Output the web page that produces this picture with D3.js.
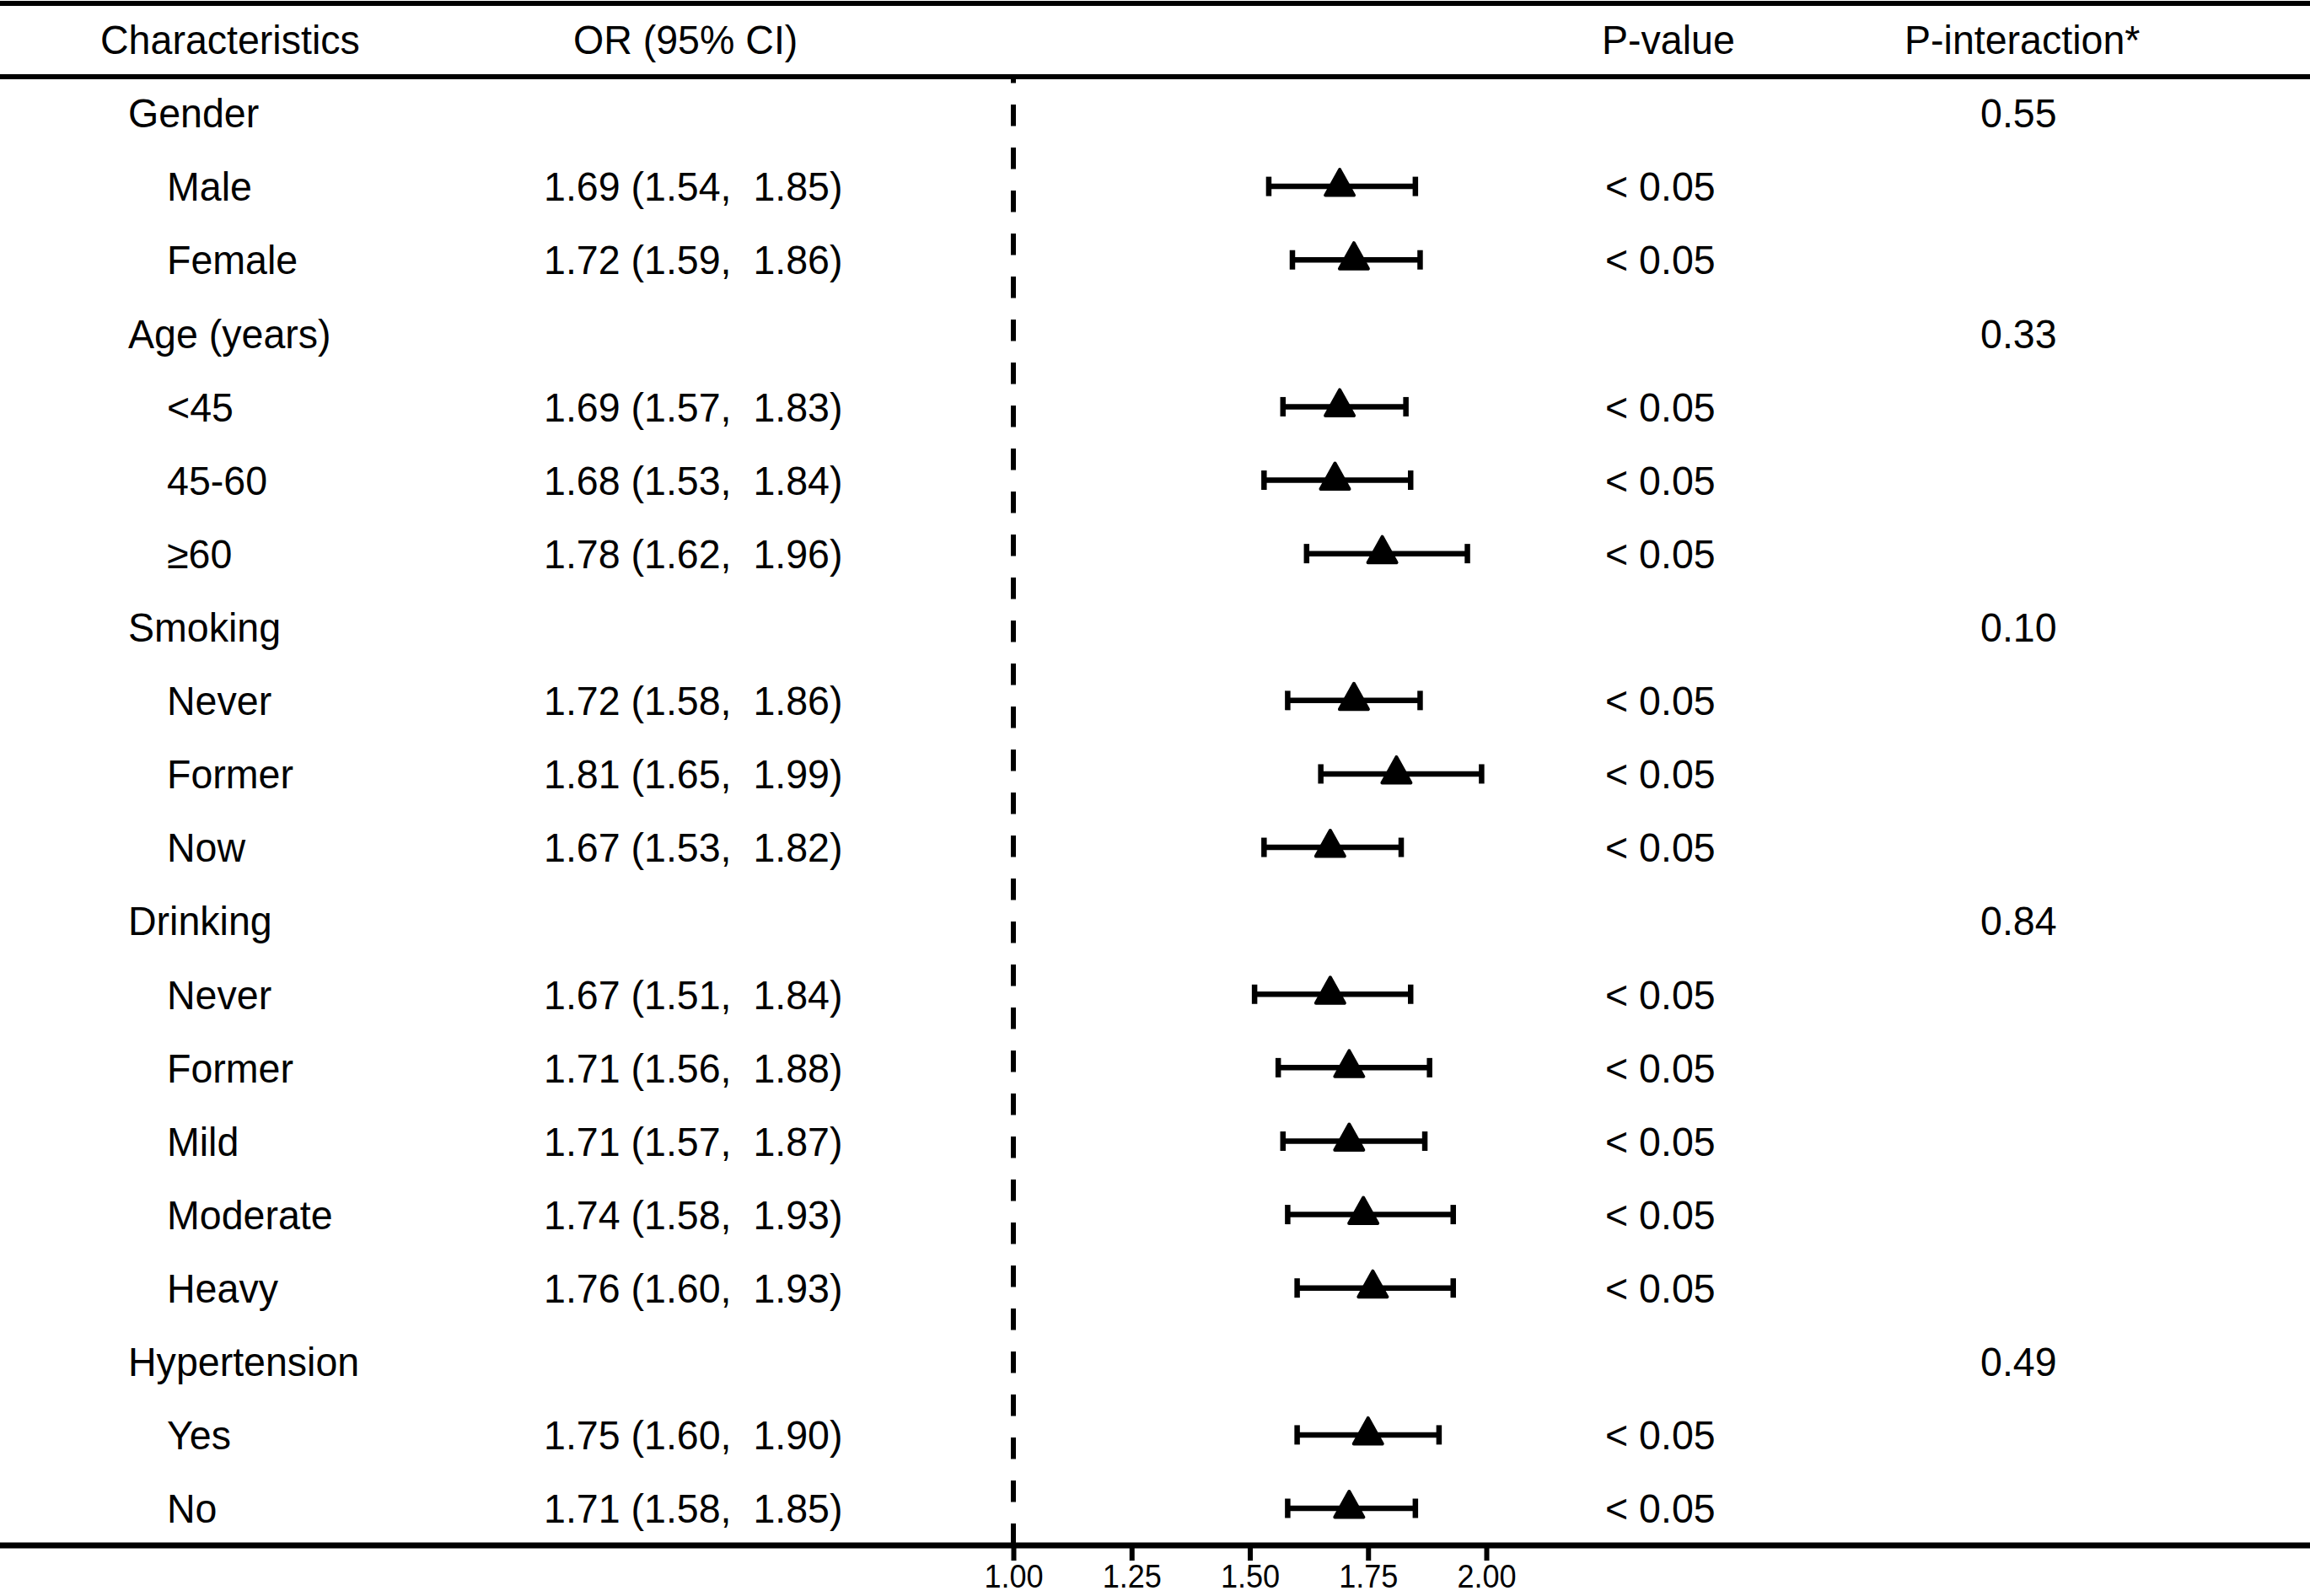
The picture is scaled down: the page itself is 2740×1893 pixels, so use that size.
<!DOCTYPE html>
<html>
<head>
<meta charset="utf-8">
<script src="https://cdn.jsdelivr.net/npm/d3@7"></script>
<style>
  body { margin: 0; background: #fff; }
  text { font-family: "Liberation Sans", Arial, sans-serif; fill: #000; white-space: pre; }
</style>
</head>
<body>
<svg id="drawing_region"></svg>
<script>
const rowLabels = ['Gender', 'Male', 'Female', 'Age (years)', '<45', '45-60', '≥60',
    'Smoking', 'Never', 'Former', 'Now', 'Drinking', 'Never', 'Former', 'Mild',
    'Moderate', 'Heavy', 'Hypertension', 'Yes', 'No'];
const groupRows = ['Gender', 'Age (years)', 'Smoking', 'Drinking', 'Hypertension'];
const orValues = [null, 1.69, 1.72, null, 1.69, 1.68, 1.78, null, 1.72, 1.81, 1.67,
    null, 1.67, 1.71, 1.71, 1.74, 1.76, null, 1.75, 1.71];
const ciLower = [null, 1.54, 1.59, null, 1.57, 1.53, 1.62, null, 1.58, 1.65, 1.53,
    null, 1.51, 1.56, 1.57, 1.58, 1.60, null, 1.60, 1.58];
const ciUpper = [null, 1.85, 1.86, null, 1.83, 1.84, 1.96, null, 1.86, 1.99, 1.82,
    null, 1.84, 1.88, 1.87, 1.93, 1.93, null, 1.90, 1.85];
const pValues = ['', '< 0.05', '< 0.05', '', '< 0.05', '< 0.05', '< 0.05', '', '< 0.05',
    '< 0.05', '< 0.05', '', '< 0.05', '< 0.05', '< 0.05', '< 0.05', '< 0.05', '', '< 0.05', '< 0.05'];
const pInteraction = [0.55, null, null, 0.33, null, null, null, 0.10, null, null, null,
    0.84, null, null, null, null, null, 0.49, null, null];
const headerLabels = ['Characteristics', 'OR (95% CI)', 'P-value', 'P-interaction*'];
const xTicks = [1.00, 1.25, 1.50, 1.75, 2.00];

const data = rowLabels.map((label, i) => ({
    label: label,
    group: groupRows.includes(label),
    or: orValues[i],
    lo: ciLower[i],
    hi: ciUpper[i],
    p: pValues[i],
    pint: pInteraction[i],
    row: i
}));

var config = {
    parent: '#drawing_region',
    width: 2740,
    height: 1893
};

class ForestPlot {
    constructor(config, data) {
        this.config = config;
        this.data = data;
        this.init();
    }

    init() {
        let self = this;

        self.svg = d3.select(self.config.parent)
            .attr('width', self.config.width)
            .attr('height', self.config.height);

        self.xscale = d3.scaleLinear()
            .range([1202, 1763]);

        self.yscale = d3.scalePoint()
            .range([134, 1789]);

        self.xaxis = d3.axisBottom(self.xscale)
            .tickValues(xTicks)
            .tickFormat(d3.format('.2f'))
            .tickSize(18)
            .tickSizeOuter(0);

        self.fmt = d3.format('.2f');
        self.fontSize = 48;
        self.squeeze = 'scale(0.97,1)';
    }

    update() {
        let self = this;
        self.xscale.domain([1, 2]);
        self.yscale.domain(self.data.map(d => d.row));
        self.render();
    }

    text(x, y, str) {
        let self = this;
        return self.svg.append('text')
            .attr('transform', `translate(${x},${y}) ${self.squeeze}`)
            .attr('dy', '0.36em')
            .attr('font-size', self.fontSize)
            .text(str);
    }

    render() {
        let self = this;
        const W = self.config.width;

        // header
        const headerX = [119, 680, 1900, 2259];
        headerLabels.forEach((h, i) => self.text(headerX[i], 47, h));

        // reference line at OR = 1
        self.svg.append('line')
            .attr('x1', self.xscale(1)).attr('x2', self.xscale(1))
            .attr('y1', 94).attr('y2', 1833)
            .attr('stroke', '#000')
            .attr('stroke-width', 6)
            .attr('stroke-dasharray', '25.5,25.5')
            .attr('stroke-dashoffset', 21);

        // table rules
        [[4, 6], [91, 6], [1833, 7]].forEach(r => {
            self.svg.append('line')
                .attr('x1', 0).attr('x2', W)
                .attr('y1', r[0]).attr('y2', r[0])
                .attr('stroke', '#000')
                .attr('stroke-width', r[1]);
        });

        // row texts
        self.data.forEach(d => {
            const y = self.yscale(d.row);
            self.text(d.group ? 152 : 198, y, d.label);
            if (d.or != null) {
                self.text(645, y, `${self.fmt(d.or)} (${self.fmt(d.lo)},  ${self.fmt(d.hi)})`);
            }
            if (d.p) self.text(1904, y, d.p);
            if (d.pint != null) self.text(2349, y, self.fmt(d.pint));
        });

        const est = self.data.filter(d => d.or != null);

        // CI whiskers
        self.svg.selectAll('.ci')
            .data(est)
            .enter()
            .append('line')
            .attr('class', 'ci')
            .attr('x1', d => self.xscale(d.lo))
            .attr('x2', d => self.xscale(d.hi))
            .attr('y1', d => self.yscale(d.row))
            .attr('y2', d => self.yscale(d.row))
            .attr('stroke', '#000')
            .attr('stroke-width', 6.5);

        ['lo', 'hi'].forEach(k => {
            self.svg.selectAll('.cap-' + k)
                .data(est)
                .enter()
                .append('line')
                .attr('class', 'cap-' + k)
                .attr('x1', d => self.xscale(d[k]))
                .attr('x2', d => self.xscale(d[k]))
                .attr('y1', d => self.yscale(d.row) - 11.5)
                .attr('y2', d => self.yscale(d.row) + 11.5)
                .attr('stroke', '#000')
                .attr('stroke-width', 6.5);
        });

        // triangle markers
        self.svg.selectAll('.pt')
            .data(est)
            .enter()
            .append('path')
            .attr('class', 'pt')
            .attr('d', d => {
                const cx = self.xscale(d.or), cy = self.yscale(d.row);
                return `M${cx},${cy - 20}L${cx + 17},${cy + 10.5}L${cx - 17},${cy + 10.5}Z`;
            })
            .attr('fill', '#000')
            .attr('stroke', '#000')
            .attr('stroke-width', 4)
            .attr('stroke-linejoin', 'round');

        // x axis
        const ax = self.svg.append('g')
            .attr('transform', 'translate(0,1833)')
            .call(self.xaxis);
        ax.select('.domain').remove();
        ax.selectAll('.tick line')
            .attr('stroke', '#000')
            .attr('stroke-width', 6);
        ax.selectAll('.tick text')
            .attr('y', 50)
            .attr('dy', 0)
            .attr('transform', 'scale(0.95,1)')
            .attr('font-size', 38)
            .attr('font-family', '"Liberation Sans", Arial, sans-serif')
            .attr('fill', '#000');
    }
}

const forest = new ForestPlot(config, data);
forest.update();
</script>
</body>
</html>
